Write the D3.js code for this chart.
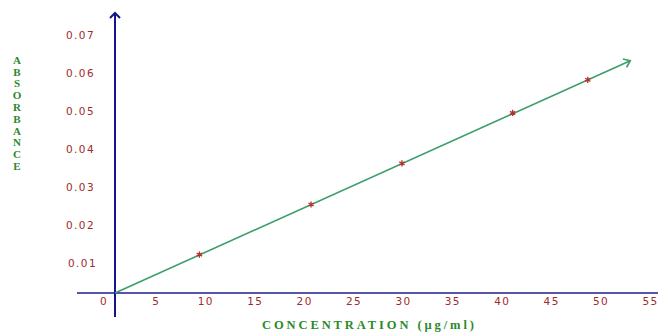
<!DOCTYPE html>
<html>
<head>
<meta charset="utf-8">
<script src="https://cdn.jsdelivr.net/npm/d3@7"></script>
<style>
    body { margin: 0; background: #fff; }
    svg { display: block; }
    .tick text { font-family: "DejaVu Sans", Verdana, sans-serif; font-size: 10.5px; letter-spacing: 1.4px; fill: #9e2b2b; }
    .title { font-family: "Liberation Serif", "Times New Roman", serif; font-weight: 700; fill: #2a8a2a; }
</style>
</head>
<body>
<svg id="chart"></svg>
<script>
// data
const concentration = [9.4, 20.7, 29.9, 41.1, 48.7];
const absorbance = [0.0122, 0.0254, 0.0362, 0.0495, 0.0582];
const xTicks = [0, 5, 10, 15, 20, 25, 30, 35, 40, 45, 50, 55];
const yTicks = [0.01, 0.02, 0.03, 0.04, 0.05, 0.06, 0.07];
const yTitle = "ABSORBANCE";
const xTitle = "CONCENTRATION (\u00b5g/ml)";
const lineEndConc = 53;

const width = 658, height = 333;

const svg = d3.select("#chart")
    .attr("width", width)
    .attr("height", height);

const xScale = d3.scaleLinear().domain([0, 55]).range([106.5, 650]);
const yScale = d3.scaleLinear().domain([0, 0.07]).range([301, 35]);

// the drawn axes cross a little off the labelled zero
const originX = xScale(0) + 8.5;
const originY = yScale(0) - 8;

const defs = svg.append("defs");
defs.append("marker")
    .attr("id", "arrowBlue")
    .attr("viewBox", "-6 -6 12 12")
    .attr("refX", 0).attr("refY", 0)
    .attr("markerWidth", 12).attr("markerHeight", 12)
    .attr("markerUnits", "userSpaceOnUse")
    .attr("orient", "auto")
    .append("path")
    .attr("d", "M-5,-5 L0,0 L-5,5")
    .attr("fill", "none")
    .attr("stroke", "#14148c")
    .attr("stroke-width", 2);
defs.append("marker")
    .attr("id", "arrowGreen")
    .attr("viewBox", "-7 -6 12 12")
    .attr("refX", 0).attr("refY", 0)
    .attr("markerWidth", 12).attr("markerHeight", 12)
    .attr("markerUnits", "userSpaceOnUse")
    .attr("orient", "auto")
    .append("path")
    .attr("d", "M-6,-4.5 L0,0 L-6,4.5")
    .attr("fill", "none")
    .attr("stroke", "#3c9e6c")
    .attr("stroke-width", 1.6);

// x axis line
svg.append("line")
    .attr("x1", 77).attr("x2", width)
    .attr("y1", originY).attr("y2", originY)
    .attr("stroke", "#5555aa")
    .attr("stroke-width", 2);

// y axis line with arrow
svg.append("line")
    .attr("x1", originX).attr("x2", originX)
    .attr("y1", 317).attr("y2", 13)
    .attr("stroke", "#14148c")
    .attr("stroke-width", 2)
    .attr("marker-end", "url(#arrowBlue)");

// tick labels
const xAxis = svg.append("g")
    .attr("transform", `translate(0, ${yScale(0)})`)
    .call(d3.axisBottom(xScale).tickValues(xTicks).tickSize(0).tickPadding(0).tickFormat(d => d));
xAxis.select(".domain").remove();
xAxis.selectAll(".tick text")
    .attr("y", 0)
    .attr("dy", "0.35em")
    .attr("dx", d => d === 0 ? -3 : 0);

const yAxis = svg.append("g")
    .attr("transform", "translate(95, 0)")
    .call(d3.axisLeft(yScale).tickValues(yTicks).tickSize(0).tickPadding(0).tickFormat(d3.format(".2f")));
yAxis.select(".domain").remove();
yAxis.selectAll(".tick text")
    .attr("dx", d => d === 0.01 ? 2 : 0);

// fitted line from origin through the points
const last = concentration.length - 1;
const px = xScale(concentration[last]), py = yScale(absorbance[last]);
const t = (xScale(lineEndConc) - originX) / (px - originX);
svg.append("line")
    .attr("x1", originX).attr("y1", originY)
    .attr("x2", originX + t * (px - originX))
    .attr("y2", originY + t * (py - originY))
    .attr("stroke", "#3c9e6c")
    .attr("stroke-width", 1.6)
    .attr("marker-end", "url(#arrowGreen)");

// star markers
const star = d3.symbol().type(d3.symbolAsterisk).size(26);
svg.append("g").selectAll("path")
    .data(concentration.map((c, i) => [c, absorbance[i]]))
    .join("path")
    .attr("d", star)
    .attr("transform", d => `translate(${xScale(d[0])}, ${yScale(d[1])})`)
    .attr("fill", "none")
    .attr("stroke", "#b8302a")
    .attr("stroke-width", 1.3);

// titles
svg.append("g").selectAll("text")
    .data(yTitle.split(""))
    .join("text")
    .attr("class", "title")
    .attr("x", 17)
    .attr("y", (d, i) => 60 + i * 11.8)
    .attr("dy", "0.35em")
    .attr("text-anchor", "middle")
    .attr("font-size", 11)
    .text(d => d);

svg.append("text")
    .attr("class", "title")
    .attr("x", 368)
    .attr("y", 325)
    .attr("dy", "0.35em")
    .attr("text-anchor", "middle")
    .attr("font-size", 12.5)
    .attr("textLength", 212)
    .attr("lengthAdjust", "spacing")
    .text(xTitle);
</script>
</body>
</html>
